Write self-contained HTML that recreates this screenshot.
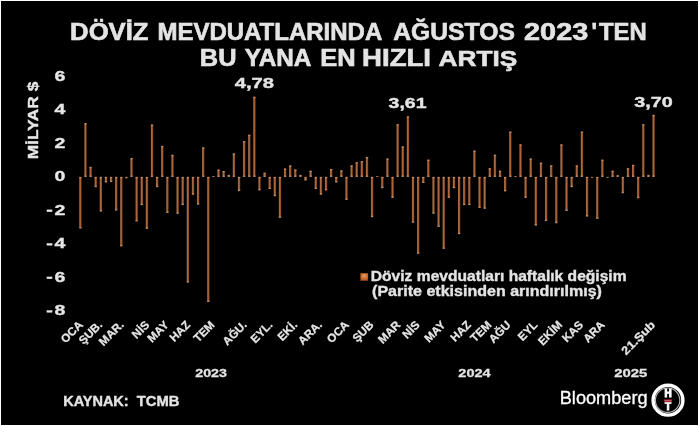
<!DOCTYPE html>
<html><head><meta charset="utf-8"><style>
html,body{margin:0;padding:0;background:#fff;overflow:hidden;width:699px;height:426px;}
svg{display:block;will-change:transform;}
</style></head><body>
<svg width="699" height="426" viewBox="0 0 699 426">
<defs>
<linearGradient id="bg" x1="0" x2="1" y1="0" y2="0">
<stop offset="0" stop-color="#9a6a4e"/><stop offset="0.45" stop-color="#b06638"/><stop offset="1" stop-color="#7e4014"/>
</linearGradient>
<radialGradient id="lg" cx="0.5" cy="0.35" r="0.7">
<stop offset="0" stop-color="#e8a070"/><stop offset="0.6" stop-color="#c86828"/><stop offset="1" stop-color="#a85018"/>
</radialGradient>
</defs>
<rect x="0" y="0" width="699" height="426" fill="#ffffff"/>
<rect x="1" y="1" width="697" height="424" fill="#000000"/>
<g fill="#e6e6e6" stroke="#e6e6e6" stroke-width="0.35" font-family="Liberation Sans, sans-serif" font-weight="bold" font-size="15"><text transform="translate(65.3,80.58) scale(1.3,1)" text-anchor="end">6</text>
<text transform="translate(65.3,114.12) scale(1.3,1)" text-anchor="end">4</text>
<text transform="translate(65.3,147.66) scale(1.3,1)" text-anchor="end">2</text>
<text transform="translate(65.3,181.20) scale(1.3,1)" text-anchor="end">0</text>
<text transform="translate(65.3,214.74) scale(1.3,1)" text-anchor="end">2</text>
<rect x="46.9" y="209.84" width="5.2" height="1.9"/>
<text transform="translate(65.3,248.28) scale(1.3,1)" text-anchor="end">4</text>
<rect x="46.9" y="243.38" width="5.2" height="1.9"/>
<text transform="translate(65.3,281.82) scale(1.3,1)" text-anchor="end">6</text>
<rect x="46.9" y="276.92" width="5.2" height="1.9"/>
<text transform="translate(65.3,315.36) scale(1.3,1)" text-anchor="end">8</text>
<rect x="46.9" y="310.46" width="5.2" height="1.9"/></g>
<text x="0" y="0" transform="translate(70.12,40) scale(1.1154,1)" fill="#e4e4e4" stroke="#e4e4e4" stroke-width="0.6" font-family="Liberation Sans, sans-serif" font-weight="bold" font-size="23.0">DÖVİZ</text>
<text x="0" y="0" transform="translate(157.4,40) scale(1.0439,1)" fill="#e4e4e4" stroke="#e4e4e4" stroke-width="0.6" font-family="Liberation Sans, sans-serif" font-weight="bold" font-size="23.0">MEVDUATLARINDA</text>
<text x="0" y="0" transform="translate(393.23,40) scale(1.0741,1)" fill="#e4e4e4" stroke="#e4e4e4" stroke-width="0.6" font-family="Liberation Sans, sans-serif" font-weight="bold" font-size="23.0">AĞUSTOS</text>
<text x="0" y="0" transform="translate(524.1,40) scale(1.2531,1)" fill="#e4e4e4" stroke="#e4e4e4" stroke-width="0.6" font-family="Liberation Sans, sans-serif" font-weight="bold" font-size="23.0">2023</text>
<text x="0" y="0" transform="translate(591.5,40) scale(1.0,1)" fill="#e4e4e4" stroke="#e4e4e4" stroke-width="0.6" font-family="Liberation Sans, sans-serif" font-weight="bold" font-size="23.0">'</text>
<text x="0" y="0" transform="translate(599.03,40) scale(1.0374,1)" fill="#e4e4e4" stroke="#e4e4e4" stroke-width="0.6" font-family="Liberation Sans, sans-serif" font-weight="bold" font-size="23.0">TEN</text>
<text x="0" y="0" transform="translate(199.83,65.6) scale(1.1045,1)" fill="#e4e4e4" stroke="#e4e4e4" stroke-width="0.6" font-family="Liberation Sans, sans-serif" font-weight="bold" font-size="23.0">BU</text>
<text x="0" y="0" transform="translate(244.73,65.6) scale(1.0582,1)" fill="#e4e4e4" stroke="#e4e4e4" stroke-width="0.6" font-family="Liberation Sans, sans-serif" font-weight="bold" font-size="23.0">YANA</text>
<text x="0" y="0" transform="translate(320.23,65.6) scale(1.1069,1)" fill="#e4e4e4" stroke="#e4e4e4" stroke-width="0.6" font-family="Liberation Sans, sans-serif" font-weight="bold" font-size="23.0">EN</text>
<text x="0" y="0" transform="translate(362.12,65.6) scale(1.1987,1)" fill="#e4e4e4" stroke="#e4e4e4" stroke-width="0.6" font-family="Liberation Sans, sans-serif" font-weight="bold" font-size="23.0">HIZLI</text>
<text x="0" y="0" transform="translate(438.62,65.6) scale(1.1412,1)" fill="#e4e4e4" stroke="#e4e4e4" stroke-width="0.6" font-family="Liberation Sans, sans-serif" font-weight="bold" font-size="23.0">ARTIŞ</text>
<text x="0" y="0" transform="translate(234.79,88.2) scale(1.3273,1)" fill="#e4e4e4" stroke="#e4e4e4" stroke-width="0.4" font-family="Liberation Sans, sans-serif" font-weight="bold" font-size="15.2">4,78</text>
<text x="0" y="0" transform="translate(388.54,108.3) scale(1.2844,1)" fill="#e4e4e4" stroke="#e4e4e4" stroke-width="0.4" font-family="Liberation Sans, sans-serif" font-weight="bold" font-size="15.2">3,61</text>
<text x="0" y="0" transform="translate(634.13,106.6) scale(1.3032,1)" fill="#e4e4e4" stroke="#e4e4e4" stroke-width="0.4" font-family="Liberation Sans, sans-serif" font-weight="bold" font-size="15.2">3,70</text>
<text x="0" y="0" transform="translate(370.82,280.9) scale(1.1319,1)" fill="#e4e4e4" stroke="#e4e4e4" stroke-width="0.35" font-family="Liberation Sans, sans-serif" font-weight="bold" font-size="13.8">Döviz mevduatları haftalık değişim</text>
<text x="0" y="0" transform="translate(372.06,296.4) scale(1.1624,1)" fill="#e4e4e4" stroke="#e4e4e4" stroke-width="0.35" font-family="Liberation Sans, sans-serif" font-weight="bold" font-size="13.8">(Parite etkisinden arındırılmış)</text>
<text x="0" y="0" transform="translate(63.21,406) scale(0.9862,1)" fill="#e4e4e4" stroke="#e4e4e4" stroke-width="0.4" font-family="Liberation Sans, sans-serif" font-weight="bold" font-size="14.7">KAYNAK:</text>
<text x="0" y="0" transform="translate(136.84,406) scale(1.0034,1)" fill="#e4e4e4" stroke="#e4e4e4" stroke-width="0.4" font-family="Liberation Sans, sans-serif" font-weight="bold" font-size="14.7">TCMB</text>
<text x="0" y="0" transform="translate(195.27,376.7) scale(1.2397,1)" fill="#e4e4e4" stroke="#e4e4e4" stroke-width="0.3" font-family="Liberation Sans, sans-serif" font-weight="bold" font-size="11.5">2023</text>
<text x="0" y="0" transform="translate(458.36,377) scale(1.2609,1)" fill="#e4e4e4" stroke="#e4e4e4" stroke-width="0.3" font-family="Liberation Sans, sans-serif" font-weight="bold" font-size="11.5">2024</text>
<text x="0" y="0" transform="translate(614.26,377) scale(1.2959,1)" fill="#e4e4e4" stroke="#e4e4e4" stroke-width="0.3" font-family="Liberation Sans, sans-serif" font-weight="bold" font-size="11.5">2025</text>
<text x="0" y="0" transform="translate(559.75,403.9) scale(1.0096,1)" fill="#ffffff" stroke="#ffffff" stroke-width="0.3" font-family="Liberation Sans, sans-serif" font-weight="normal" font-size="18">Bloomberg</text>
<text font-family="Liberation Sans, sans-serif" font-weight="bold" fill="#e6e6e6" stroke="#e6e6e6" stroke-width="0.4" font-size="15.5" transform="translate(37.9,159.3) rotate(-90)" textLength="77.6" lengthAdjust="spacingAndGlyphs">MİLYAR $</text>
<g fill="url(#bg)">
<rect x="79.25" y="176.90" width="2.3" height="51.48"/>
<rect x="84.37" y="123.07" width="2.3" height="53.83"/>
<rect x="89.49" y="166.84" width="2.3" height="10.06"/>
<rect x="94.60" y="176.90" width="2.3" height="10.23"/>
<rect x="99.72" y="176.90" width="2.3" height="34.55"/>
<rect x="104.84" y="176.90" width="2.3" height="5.53"/>
<rect x="109.96" y="176.90" width="2.3" height="5.03"/>
<rect x="115.08" y="176.90" width="2.3" height="33.54"/>
<rect x="120.19" y="176.90" width="2.3" height="69.43"/>
<rect x="125.31" y="176.90" width="2.3" height="1.34"/>
<rect x="130.43" y="157.95" width="2.3" height="18.95"/>
<rect x="135.55" y="176.90" width="2.3" height="44.44"/>
<rect x="140.67" y="176.90" width="2.3" height="28.17"/>
<rect x="145.78" y="176.90" width="2.3" height="51.99"/>
<rect x="150.90" y="124.58" width="2.3" height="52.32"/>
<rect x="156.02" y="176.90" width="2.3" height="10.23"/>
<rect x="161.14" y="145.88" width="2.3" height="31.02"/>
<rect x="166.26" y="176.90" width="2.3" height="36.06"/>
<rect x="171.37" y="154.76" width="2.3" height="22.14"/>
<rect x="176.49" y="176.90" width="2.3" height="36.89"/>
<rect x="181.61" y="176.90" width="2.3" height="28.17"/>
<rect x="186.73" y="176.90" width="2.3" height="105.65"/>
<rect x="191.85" y="176.90" width="2.3" height="17.78"/>
<rect x="196.96" y="176.90" width="2.3" height="27.67"/>
<rect x="202.08" y="147.38" width="2.3" height="29.52"/>
<rect x="207.20" y="176.90" width="2.3" height="125.10"/>
<rect x="212.32" y="176.06" width="2.3" height="0.84"/>
<rect x="217.44" y="169.52" width="2.3" height="7.38"/>
<rect x="222.55" y="171.03" width="2.3" height="5.87"/>
<rect x="227.67" y="174.89" width="2.3" height="2.01"/>
<rect x="232.79" y="153.42" width="2.3" height="23.48"/>
<rect x="237.91" y="176.90" width="2.3" height="14.09"/>
<rect x="243.03" y="141.18" width="2.3" height="35.72"/>
<rect x="248.14" y="134.81" width="2.3" height="42.09"/>
<rect x="253.26" y="96.74" width="2.3" height="80.16"/>
<rect x="258.38" y="176.90" width="2.3" height="13.42"/>
<rect x="263.50" y="172.71" width="2.3" height="4.19"/>
<rect x="268.62" y="176.90" width="2.3" height="12.07"/>
<rect x="273.73" y="176.90" width="2.3" height="19.29"/>
<rect x="278.85" y="176.90" width="2.3" height="40.92"/>
<rect x="283.97" y="168.52" width="2.3" height="8.38"/>
<rect x="289.09" y="165.33" width="2.3" height="11.57"/>
<rect x="294.21" y="169.52" width="2.3" height="7.38"/>
<rect x="299.32" y="174.89" width="2.3" height="2.01"/>
<rect x="304.44" y="176.90" width="2.3" height="3.52"/>
<rect x="309.56" y="170.70" width="2.3" height="6.20"/>
<rect x="314.68" y="176.90" width="2.3" height="12.07"/>
<rect x="319.80" y="176.90" width="2.3" height="17.78"/>
<rect x="324.91" y="176.90" width="2.3" height="13.42"/>
<rect x="330.03" y="169.02" width="2.3" height="7.88"/>
<rect x="335.15" y="176.90" width="2.3" height="5.53"/>
<rect x="340.27" y="170.36" width="2.3" height="6.54"/>
<rect x="345.39" y="176.90" width="2.3" height="22.97"/>
<rect x="350.50" y="165.33" width="2.3" height="11.57"/>
<rect x="355.62" y="162.14" width="2.3" height="14.76"/>
<rect x="360.74" y="161.14" width="2.3" height="15.76"/>
<rect x="365.86" y="156.94" width="2.3" height="19.96"/>
<rect x="370.98" y="176.90" width="2.3" height="40.25"/>
<rect x="376.09" y="176.10" width="2.3" height="0.80"/>
<rect x="381.21" y="176.90" width="2.3" height="11.24"/>
<rect x="386.33" y="158.45" width="2.3" height="18.45"/>
<rect x="391.45" y="176.90" width="2.3" height="20.96"/>
<rect x="396.57" y="124.24" width="2.3" height="52.66"/>
<rect x="401.68" y="146.38" width="2.3" height="30.52"/>
<rect x="406.80" y="116.36" width="2.3" height="60.54"/>
<rect x="411.92" y="176.90" width="2.3" height="45.78"/>
<rect x="417.04" y="176.90" width="2.3" height="76.81"/>
<rect x="422.16" y="176.90" width="2.3" height="6.04"/>
<rect x="427.27" y="159.63" width="2.3" height="17.27"/>
<rect x="432.39" y="176.90" width="2.3" height="36.73"/>
<rect x="437.51" y="176.90" width="2.3" height="49.97"/>
<rect x="442.63" y="176.90" width="2.3" height="71.94"/>
<rect x="447.75" y="176.90" width="2.3" height="20.96"/>
<rect x="452.86" y="176.90" width="2.3" height="11.24"/>
<rect x="457.98" y="176.90" width="2.3" height="57.19"/>
<rect x="463.10" y="176.90" width="2.3" height="28.17"/>
<rect x="468.22" y="176.90" width="2.3" height="28.17"/>
<rect x="473.34" y="150.57" width="2.3" height="26.33"/>
<rect x="478.45" y="176.90" width="2.3" height="31.02"/>
<rect x="483.57" y="176.90" width="2.3" height="31.86"/>
<rect x="488.69" y="168.18" width="2.3" height="8.72"/>
<rect x="493.81" y="154.76" width="2.3" height="22.14"/>
<rect x="498.93" y="170.70" width="2.3" height="6.20"/>
<rect x="504.04" y="176.90" width="2.3" height="14.42"/>
<rect x="509.16" y="131.62" width="2.3" height="45.28"/>
<rect x="514.28" y="176.06" width="2.3" height="0.84"/>
<rect x="519.40" y="144.37" width="2.3" height="32.53"/>
<rect x="524.52" y="176.90" width="2.3" height="20.96"/>
<rect x="529.63" y="158.45" width="2.3" height="18.45"/>
<rect x="534.75" y="176.90" width="2.3" height="48.63"/>
<rect x="539.87" y="162.65" width="2.3" height="14.25"/>
<rect x="544.99" y="176.90" width="2.3" height="44.11"/>
<rect x="550.11" y="165.33" width="2.3" height="11.57"/>
<rect x="555.22" y="176.90" width="2.3" height="46.29"/>
<rect x="560.34" y="144.37" width="2.3" height="32.53"/>
<rect x="565.46" y="176.90" width="2.3" height="34.04"/>
<rect x="570.58" y="176.90" width="2.3" height="10.23"/>
<rect x="575.70" y="165.33" width="2.3" height="11.57"/>
<rect x="580.81" y="131.62" width="2.3" height="45.28"/>
<rect x="585.93" y="176.90" width="2.3" height="39.58"/>
<rect x="591.05" y="176.90" width="2.3" height="0.84"/>
<rect x="596.17" y="176.90" width="2.3" height="41.92"/>
<rect x="601.29" y="159.63" width="2.3" height="17.27"/>
<rect x="606.40" y="176.90" width="2.3" height="0.84"/>
<rect x="611.52" y="170.70" width="2.3" height="6.20"/>
<rect x="616.64" y="175.22" width="2.3" height="1.68"/>
<rect x="621.76" y="176.90" width="2.3" height="16.27"/>
<rect x="626.88" y="168.18" width="2.3" height="8.72"/>
<rect x="631.99" y="164.83" width="2.3" height="12.07"/>
<rect x="637.11" y="176.90" width="2.3" height="21.30"/>
<rect x="642.23" y="124.24" width="2.3" height="52.66"/>
<rect x="647.35" y="174.89" width="2.3" height="2.01"/>
<rect x="652.47" y="114.85" width="2.3" height="62.05"/>
</g>
<g fill="#d8a888" opacity="0.55">
<rect x="79.25" y="176.90" width="2.3" height="1.40"/>
<rect x="79.25" y="226.98" width="2.3" height="1.40"/>
<rect x="84.37" y="123.07" width="2.3" height="1.40"/>
<rect x="84.37" y="175.50" width="2.3" height="1.40"/>
<rect x="89.49" y="166.84" width="2.3" height="1.40"/>
<rect x="89.49" y="175.50" width="2.3" height="1.40"/>
<rect x="94.60" y="176.90" width="2.3" height="1.40"/>
<rect x="94.60" y="185.73" width="2.3" height="1.40"/>
<rect x="99.72" y="176.90" width="2.3" height="1.40"/>
<rect x="99.72" y="210.05" width="2.3" height="1.40"/>
<rect x="104.84" y="176.90" width="2.3" height="1.40"/>
<rect x="104.84" y="181.03" width="2.3" height="1.40"/>
<rect x="109.96" y="176.90" width="2.3" height="1.40"/>
<rect x="109.96" y="180.53" width="2.3" height="1.40"/>
<rect x="115.08" y="176.90" width="2.3" height="1.40"/>
<rect x="115.08" y="209.04" width="2.3" height="1.40"/>
<rect x="120.19" y="176.90" width="2.3" height="1.40"/>
<rect x="120.19" y="244.93" width="2.3" height="1.40"/>
<rect x="125.31" y="176.90" width="2.3" height="0.67"/>
<rect x="125.31" y="177.57" width="2.3" height="0.67"/>
<rect x="130.43" y="157.95" width="2.3" height="1.40"/>
<rect x="130.43" y="175.50" width="2.3" height="1.40"/>
<rect x="135.55" y="176.90" width="2.3" height="1.40"/>
<rect x="135.55" y="219.94" width="2.3" height="1.40"/>
<rect x="140.67" y="176.90" width="2.3" height="1.40"/>
<rect x="140.67" y="203.67" width="2.3" height="1.40"/>
<rect x="145.78" y="176.90" width="2.3" height="1.40"/>
<rect x="145.78" y="227.49" width="2.3" height="1.40"/>
<rect x="150.90" y="124.58" width="2.3" height="1.40"/>
<rect x="150.90" y="175.50" width="2.3" height="1.40"/>
<rect x="156.02" y="176.90" width="2.3" height="1.40"/>
<rect x="156.02" y="185.73" width="2.3" height="1.40"/>
<rect x="161.14" y="145.88" width="2.3" height="1.40"/>
<rect x="161.14" y="175.50" width="2.3" height="1.40"/>
<rect x="166.26" y="176.90" width="2.3" height="1.40"/>
<rect x="166.26" y="211.56" width="2.3" height="1.40"/>
<rect x="171.37" y="154.76" width="2.3" height="1.40"/>
<rect x="171.37" y="175.50" width="2.3" height="1.40"/>
<rect x="176.49" y="176.90" width="2.3" height="1.40"/>
<rect x="176.49" y="212.39" width="2.3" height="1.40"/>
<rect x="181.61" y="176.90" width="2.3" height="1.40"/>
<rect x="181.61" y="203.67" width="2.3" height="1.40"/>
<rect x="186.73" y="176.90" width="2.3" height="1.40"/>
<rect x="186.73" y="281.15" width="2.3" height="1.40"/>
<rect x="191.85" y="176.90" width="2.3" height="1.40"/>
<rect x="191.85" y="193.28" width="2.3" height="1.40"/>
<rect x="196.96" y="176.90" width="2.3" height="1.40"/>
<rect x="196.96" y="203.17" width="2.3" height="1.40"/>
<rect x="202.08" y="147.38" width="2.3" height="1.40"/>
<rect x="202.08" y="175.50" width="2.3" height="1.40"/>
<rect x="207.20" y="176.90" width="2.3" height="1.40"/>
<rect x="207.20" y="300.60" width="2.3" height="1.40"/>
<rect x="212.32" y="176.06" width="2.3" height="0.42"/>
<rect x="212.32" y="176.48" width="2.3" height="0.42"/>
<rect x="217.44" y="169.52" width="2.3" height="1.40"/>
<rect x="217.44" y="175.50" width="2.3" height="1.40"/>
<rect x="222.55" y="171.03" width="2.3" height="1.40"/>
<rect x="222.55" y="175.50" width="2.3" height="1.40"/>
<rect x="227.67" y="174.89" width="2.3" height="1.01"/>
<rect x="227.67" y="175.89" width="2.3" height="1.01"/>
<rect x="232.79" y="153.42" width="2.3" height="1.40"/>
<rect x="232.79" y="175.50" width="2.3" height="1.40"/>
<rect x="237.91" y="176.90" width="2.3" height="1.40"/>
<rect x="237.91" y="189.59" width="2.3" height="1.40"/>
<rect x="243.03" y="141.18" width="2.3" height="1.40"/>
<rect x="243.03" y="175.50" width="2.3" height="1.40"/>
<rect x="248.14" y="134.81" width="2.3" height="1.40"/>
<rect x="248.14" y="175.50" width="2.3" height="1.40"/>
<rect x="253.26" y="96.74" width="2.3" height="1.40"/>
<rect x="253.26" y="175.50" width="2.3" height="1.40"/>
<rect x="258.38" y="176.90" width="2.3" height="1.40"/>
<rect x="258.38" y="188.92" width="2.3" height="1.40"/>
<rect x="263.50" y="172.71" width="2.3" height="1.40"/>
<rect x="263.50" y="175.50" width="2.3" height="1.40"/>
<rect x="268.62" y="176.90" width="2.3" height="1.40"/>
<rect x="268.62" y="187.57" width="2.3" height="1.40"/>
<rect x="273.73" y="176.90" width="2.3" height="1.40"/>
<rect x="273.73" y="194.79" width="2.3" height="1.40"/>
<rect x="278.85" y="176.90" width="2.3" height="1.40"/>
<rect x="278.85" y="216.42" width="2.3" height="1.40"/>
<rect x="283.97" y="168.52" width="2.3" height="1.40"/>
<rect x="283.97" y="175.50" width="2.3" height="1.40"/>
<rect x="289.09" y="165.33" width="2.3" height="1.40"/>
<rect x="289.09" y="175.50" width="2.3" height="1.40"/>
<rect x="294.21" y="169.52" width="2.3" height="1.40"/>
<rect x="294.21" y="175.50" width="2.3" height="1.40"/>
<rect x="299.32" y="174.89" width="2.3" height="1.01"/>
<rect x="299.32" y="175.89" width="2.3" height="1.01"/>
<rect x="304.44" y="176.90" width="2.3" height="1.40"/>
<rect x="304.44" y="179.02" width="2.3" height="1.40"/>
<rect x="309.56" y="170.70" width="2.3" height="1.40"/>
<rect x="309.56" y="175.50" width="2.3" height="1.40"/>
<rect x="314.68" y="176.90" width="2.3" height="1.40"/>
<rect x="314.68" y="187.57" width="2.3" height="1.40"/>
<rect x="319.80" y="176.90" width="2.3" height="1.40"/>
<rect x="319.80" y="193.28" width="2.3" height="1.40"/>
<rect x="324.91" y="176.90" width="2.3" height="1.40"/>
<rect x="324.91" y="188.92" width="2.3" height="1.40"/>
<rect x="330.03" y="169.02" width="2.3" height="1.40"/>
<rect x="330.03" y="175.50" width="2.3" height="1.40"/>
<rect x="335.15" y="176.90" width="2.3" height="1.40"/>
<rect x="335.15" y="181.03" width="2.3" height="1.40"/>
<rect x="340.27" y="170.36" width="2.3" height="1.40"/>
<rect x="340.27" y="175.50" width="2.3" height="1.40"/>
<rect x="345.39" y="176.90" width="2.3" height="1.40"/>
<rect x="345.39" y="198.47" width="2.3" height="1.40"/>
<rect x="350.50" y="165.33" width="2.3" height="1.40"/>
<rect x="350.50" y="175.50" width="2.3" height="1.40"/>
<rect x="355.62" y="162.14" width="2.3" height="1.40"/>
<rect x="355.62" y="175.50" width="2.3" height="1.40"/>
<rect x="360.74" y="161.14" width="2.3" height="1.40"/>
<rect x="360.74" y="175.50" width="2.3" height="1.40"/>
<rect x="365.86" y="156.94" width="2.3" height="1.40"/>
<rect x="365.86" y="175.50" width="2.3" height="1.40"/>
<rect x="370.98" y="176.90" width="2.3" height="1.40"/>
<rect x="370.98" y="215.75" width="2.3" height="1.40"/>
<rect x="376.09" y="176.10" width="2.3" height="0.40"/>
<rect x="376.09" y="176.50" width="2.3" height="0.40"/>
<rect x="381.21" y="176.90" width="2.3" height="1.40"/>
<rect x="381.21" y="186.74" width="2.3" height="1.40"/>
<rect x="386.33" y="158.45" width="2.3" height="1.40"/>
<rect x="386.33" y="175.50" width="2.3" height="1.40"/>
<rect x="391.45" y="176.90" width="2.3" height="1.40"/>
<rect x="391.45" y="196.46" width="2.3" height="1.40"/>
<rect x="396.57" y="124.24" width="2.3" height="1.40"/>
<rect x="396.57" y="175.50" width="2.3" height="1.40"/>
<rect x="401.68" y="146.38" width="2.3" height="1.40"/>
<rect x="401.68" y="175.50" width="2.3" height="1.40"/>
<rect x="406.80" y="116.36" width="2.3" height="1.40"/>
<rect x="406.80" y="175.50" width="2.3" height="1.40"/>
<rect x="411.92" y="176.90" width="2.3" height="1.40"/>
<rect x="411.92" y="221.28" width="2.3" height="1.40"/>
<rect x="417.04" y="176.90" width="2.3" height="1.40"/>
<rect x="417.04" y="252.31" width="2.3" height="1.40"/>
<rect x="422.16" y="176.90" width="2.3" height="1.40"/>
<rect x="422.16" y="181.54" width="2.3" height="1.40"/>
<rect x="427.27" y="159.63" width="2.3" height="1.40"/>
<rect x="427.27" y="175.50" width="2.3" height="1.40"/>
<rect x="432.39" y="176.90" width="2.3" height="1.40"/>
<rect x="432.39" y="212.23" width="2.3" height="1.40"/>
<rect x="437.51" y="176.90" width="2.3" height="1.40"/>
<rect x="437.51" y="225.47" width="2.3" height="1.40"/>
<rect x="442.63" y="176.90" width="2.3" height="1.40"/>
<rect x="442.63" y="247.44" width="2.3" height="1.40"/>
<rect x="447.75" y="176.90" width="2.3" height="1.40"/>
<rect x="447.75" y="196.46" width="2.3" height="1.40"/>
<rect x="452.86" y="176.90" width="2.3" height="1.40"/>
<rect x="452.86" y="186.74" width="2.3" height="1.40"/>
<rect x="457.98" y="176.90" width="2.3" height="1.40"/>
<rect x="457.98" y="232.69" width="2.3" height="1.40"/>
<rect x="463.10" y="176.90" width="2.3" height="1.40"/>
<rect x="463.10" y="203.67" width="2.3" height="1.40"/>
<rect x="468.22" y="176.90" width="2.3" height="1.40"/>
<rect x="468.22" y="203.67" width="2.3" height="1.40"/>
<rect x="473.34" y="150.57" width="2.3" height="1.40"/>
<rect x="473.34" y="175.50" width="2.3" height="1.40"/>
<rect x="478.45" y="176.90" width="2.3" height="1.40"/>
<rect x="478.45" y="206.52" width="2.3" height="1.40"/>
<rect x="483.57" y="176.90" width="2.3" height="1.40"/>
<rect x="483.57" y="207.36" width="2.3" height="1.40"/>
<rect x="488.69" y="168.18" width="2.3" height="1.40"/>
<rect x="488.69" y="175.50" width="2.3" height="1.40"/>
<rect x="493.81" y="154.76" width="2.3" height="1.40"/>
<rect x="493.81" y="175.50" width="2.3" height="1.40"/>
<rect x="498.93" y="170.70" width="2.3" height="1.40"/>
<rect x="498.93" y="175.50" width="2.3" height="1.40"/>
<rect x="504.04" y="176.90" width="2.3" height="1.40"/>
<rect x="504.04" y="189.92" width="2.3" height="1.40"/>
<rect x="509.16" y="131.62" width="2.3" height="1.40"/>
<rect x="509.16" y="175.50" width="2.3" height="1.40"/>
<rect x="514.28" y="176.06" width="2.3" height="0.42"/>
<rect x="514.28" y="176.48" width="2.3" height="0.42"/>
<rect x="519.40" y="144.37" width="2.3" height="1.40"/>
<rect x="519.40" y="175.50" width="2.3" height="1.40"/>
<rect x="524.52" y="176.90" width="2.3" height="1.40"/>
<rect x="524.52" y="196.46" width="2.3" height="1.40"/>
<rect x="529.63" y="158.45" width="2.3" height="1.40"/>
<rect x="529.63" y="175.50" width="2.3" height="1.40"/>
<rect x="534.75" y="176.90" width="2.3" height="1.40"/>
<rect x="534.75" y="224.13" width="2.3" height="1.40"/>
<rect x="539.87" y="162.65" width="2.3" height="1.40"/>
<rect x="539.87" y="175.50" width="2.3" height="1.40"/>
<rect x="544.99" y="176.90" width="2.3" height="1.40"/>
<rect x="544.99" y="219.61" width="2.3" height="1.40"/>
<rect x="550.11" y="165.33" width="2.3" height="1.40"/>
<rect x="550.11" y="175.50" width="2.3" height="1.40"/>
<rect x="555.22" y="176.90" width="2.3" height="1.40"/>
<rect x="555.22" y="221.79" width="2.3" height="1.40"/>
<rect x="560.34" y="144.37" width="2.3" height="1.40"/>
<rect x="560.34" y="175.50" width="2.3" height="1.40"/>
<rect x="565.46" y="176.90" width="2.3" height="1.40"/>
<rect x="565.46" y="209.54" width="2.3" height="1.40"/>
<rect x="570.58" y="176.90" width="2.3" height="1.40"/>
<rect x="570.58" y="185.73" width="2.3" height="1.40"/>
<rect x="575.70" y="165.33" width="2.3" height="1.40"/>
<rect x="575.70" y="175.50" width="2.3" height="1.40"/>
<rect x="580.81" y="131.62" width="2.3" height="1.40"/>
<rect x="580.81" y="175.50" width="2.3" height="1.40"/>
<rect x="585.93" y="176.90" width="2.3" height="1.40"/>
<rect x="585.93" y="215.08" width="2.3" height="1.40"/>
<rect x="591.05" y="176.90" width="2.3" height="0.42"/>
<rect x="591.05" y="177.32" width="2.3" height="0.42"/>
<rect x="596.17" y="176.90" width="2.3" height="1.40"/>
<rect x="596.17" y="217.42" width="2.3" height="1.40"/>
<rect x="601.29" y="159.63" width="2.3" height="1.40"/>
<rect x="601.29" y="175.50" width="2.3" height="1.40"/>
<rect x="606.40" y="176.90" width="2.3" height="0.42"/>
<rect x="606.40" y="177.32" width="2.3" height="0.42"/>
<rect x="611.52" y="170.70" width="2.3" height="1.40"/>
<rect x="611.52" y="175.50" width="2.3" height="1.40"/>
<rect x="616.64" y="175.22" width="2.3" height="0.84"/>
<rect x="616.64" y="176.06" width="2.3" height="0.84"/>
<rect x="621.76" y="176.90" width="2.3" height="1.40"/>
<rect x="621.76" y="191.77" width="2.3" height="1.40"/>
<rect x="626.88" y="168.18" width="2.3" height="1.40"/>
<rect x="626.88" y="175.50" width="2.3" height="1.40"/>
<rect x="631.99" y="164.83" width="2.3" height="1.40"/>
<rect x="631.99" y="175.50" width="2.3" height="1.40"/>
<rect x="637.11" y="176.90" width="2.3" height="1.40"/>
<rect x="637.11" y="196.80" width="2.3" height="1.40"/>
<rect x="642.23" y="124.24" width="2.3" height="1.40"/>
<rect x="642.23" y="175.50" width="2.3" height="1.40"/>
<rect x="647.35" y="174.89" width="2.3" height="1.01"/>
<rect x="647.35" y="175.89" width="2.3" height="1.01"/>
<rect x="652.47" y="114.85" width="2.3" height="1.40"/>
<rect x="652.47" y="175.50" width="2.3" height="1.40"/>
</g>
<rect x="360.4" y="273.2" width="7.7" height="7.5" fill="url(#lg)"/>
<g fill="#e6e6e6" font-family="Liberation Sans, sans-serif" font-weight="bold" font-size="11.5" stroke="#e6e6e6" stroke-width="0.25">
<text x="0" y="0" text-anchor="end" transform="translate(83.6,325.6) rotate(-45)">OCA</text>
<text x="0" y="0" text-anchor="end" transform="translate(102.9,325.6) rotate(-45)">ŞUB.</text>
<text x="0" y="0" text-anchor="end" transform="translate(124.4,325.6) rotate(-45)">MAR.</text>
<text x="0" y="0" text-anchor="end" transform="translate(150.1,325.6) rotate(-45)">NİS</text>
<text x="0" y="0" text-anchor="end" transform="translate(169.4,325.6) rotate(-45)">MAY</text>
<text x="0" y="0" text-anchor="end" transform="translate(190.9,325.6) rotate(-45)">HAZ</text>
<text x="0" y="0" text-anchor="end" transform="translate(215.4,325.6) rotate(-45)">TEM</text>
<text x="0" y="0" text-anchor="end" transform="translate(247.6,325.6) rotate(-45)">AĞU.</text>
<text x="0" y="0" text-anchor="end" transform="translate(273.3,325.6) rotate(-45)">EYL.</text>
<text x="0" y="0" text-anchor="end" transform="translate(298.0,325.6) rotate(-45)">EKİ.</text>
<text x="0" y="0" text-anchor="end" transform="translate(322.7,325.6) rotate(-45)">ARA.</text>
<text x="0" y="0" text-anchor="end" transform="translate(349.7,325.6) rotate(-45)">OCA</text>
<text x="0" y="0" text-anchor="end" transform="translate(374.3,325.6) rotate(-45)">ŞUB</text>
<text x="0" y="0" text-anchor="end" transform="translate(401.2,325.6) rotate(-45)">MAR</text>
<text x="0" y="0" text-anchor="end" transform="translate(420.5,325.6) rotate(-45)">NİS</text>
<text x="0" y="0" text-anchor="end" transform="translate(446.2,325.6) rotate(-45)">MAY</text>
<text x="0" y="0" text-anchor="end" transform="translate(471.8,325.6) rotate(-45)">HAZ</text>
<text x="0" y="0" text-anchor="end" transform="translate(492.2,325.6) rotate(-45)">TEM</text>
<text x="0" y="0" text-anchor="end" transform="translate(511.5,325.6) rotate(-45)">AĞU</text>
<text x="0" y="0" text-anchor="end" transform="translate(538.3,325.6) rotate(-45)">EYL</text>
<text x="0" y="0" text-anchor="end" transform="translate(563.0,325.6) rotate(-45)">EKİM</text>
<text x="0" y="0" text-anchor="end" transform="translate(584.0,325.6) rotate(-45)">KAS</text>
<text x="0" y="0" text-anchor="end" transform="translate(605.5,325.6) rotate(-45)">ARA</text>
<text x="0" y="0" text-anchor="end" transform="translate(655.9,325.6) rotate(-45) scale(1.12,1)">21.Şub</text>
</g>
<g>
<circle cx="668" cy="400.2" r="14.9" fill="none" stroke="#ffffff" stroke-width="3.4"/>
<circle cx="667.6" cy="400.2" r="12.2" fill="none" stroke="#b8b8b8" stroke-width="1.2"/>
<g fill="#ffffff" stroke="#ffffff" stroke-width="1.0" font-family="Liberation Sans, sans-serif" font-weight="bold" font-size="10" text-anchor="middle">
<text x="668" y="397.3">H</text>
<text x="668" y="409.8">T</text>
</g>
<rect x="663.9" y="399.2" width="8.2" height="3" fill="#8a1a26"/>
<rect x="664.5" y="400.2" width="7" height="1" fill="#c8707a"/>
</g>
</svg>
</body></html>
